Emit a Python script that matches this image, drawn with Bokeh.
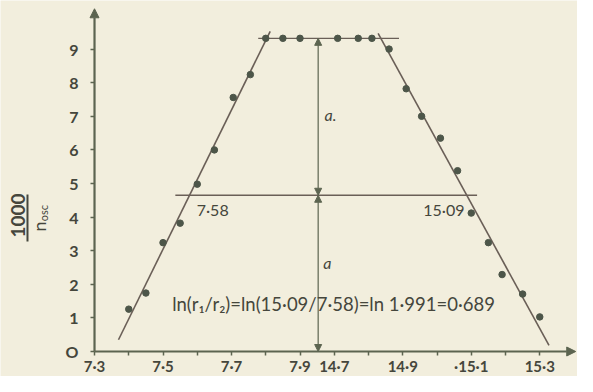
import math
from bokeh.plotting import figure
from bokeh.models import Arrow, NormalHead, Label, FixedTicker
from bokeh.embed import file_html
from bokeh.resources import INLINE

# ---------------- data ----------------
# rising branch + left part of the plateau (V, 1000/n_osc)
left_v = [7.40, 7.45, 7.50, 7.55, 7.60, 7.65, 7.705, 7.755, 7.80, 7.85, 7.90]
left_y = [1.26, 1.74, 3.24, 3.82, 4.98, 6.00, 7.56, 8.24, 9.32, 9.32, 9.32]
# right part of the plateau + falling branch
right_v = [14.71, 14.77, 14.81, 14.86, 14.91, 14.955, 15.01, 15.06, 15.10, 15.15, 15.19, 15.25, 15.30]
right_y = [9.32, 9.32, 9.32, 9.00, 7.82, 7.00, 6.35, 5.38, 4.12, 3.24, 2.29, 1.71, 1.03]
# fitted straight lines
fit_left_v = [7.37, 7.813]
fit_left_y = [0.35, 9.53]
fit_right_v = [14.828, 15.327]
fit_right_y = [9.47, 0.18]
plateau_v = [7.778, 14.889]
plateau_y = 9.32
half_v = [7.536, 15.117]
half_y = 4.65
r1_v, r2_v = 7.58, 15.09
arrow_v = 7.953
# axis ticks
x_tick_values = [7.3, 7.4, 7.5, 7.6, 7.7, 7.8, 7.9, 14.7, 14.8, 14.9, 15.0, 15.1, 15.2, 15.3]
x_tick_labels = ["7·3", "", "7·5", "", "7·7", "", "7·9", "14·7", "", "14·9", "", "·15·1", "", "15·3"]
y_tick_values = [0, 1, 2, 3, 4, 5, 6, 7, 8, 9]
y_tick_labels = ["O", "1", "2", "3", "4", "5", "6", "7", "8", "9"]
formula = "ln(r₁/r₂)=ln(15·09/7·58)=ln 1·991=0·689"


def pos(v):
    """broken x axis: 7.3–7.9 continues directly with 14.7–15.3"""
    return round(v if v < 10 else v - 6.7, 4)


BG = "#f2eedd"
AXC = "#5c6450"
LINEC = "#6a5f57"
PTC = "#4d5649"
TXT = "#45463c"
FONT = "Lato"

# the frame fills the whole canvas; axes are pinned at x=7.3 and y=0
p = figure(width=577, height=376, x_range=(7.0255, 8.7102), y_range=(-0.744, 10.446),
           output_backend="svg", toolbar_location=None,
           min_border_left=0, min_border_right=0, min_border_top=0, min_border_bottom=0)
p.background_fill_color = BG
p.border_fill_color = BG
p.outline_line_color = None
p.xgrid.visible = False
p.ygrid.visible = False

# axes
ticks_pos = [pos(v) for v in x_tick_values]
p.xaxis.ticker = FixedTicker(ticks=ticks_pos)
p.xaxis.major_label_overrides = {t: l for t, l in zip(ticks_pos, x_tick_labels)}
p.yaxis.ticker = FixedTicker(ticks=y_tick_values)
p.yaxis.major_label_overrides = {t: l for t, l in zip(y_tick_values, y_tick_labels)}
p.xaxis.fixed_location = 0
p.yaxis.fixed_location = 7.3
for ax in (p.xaxis[0], p.yaxis[0]):
    ax.axis_line_color = None
    ax.major_tick_line_color = AXC
    ax.major_tick_line_width = 1.5
    ax.major_tick_in = 0
    ax.major_tick_out = 4
    ax.minor_tick_line_color = None
    ax.major_label_text_font = FONT
    ax.major_label_text_font_style = "bold"
    ax.major_label_text_color = TXT
p.xaxis.major_label_text_font_size = "15px"
p.yaxis.major_label_text_font_size = "16px"
p.xaxis.major_label_standoff = 1
p.yaxis.major_label_standoff = 12

# axis lines with arrow heads
p.add_layout(Arrow(x_start=7.3, y_start=0, x_end=8.705, y_end=0, line_color=AXC, line_width=2.2,
                   end=NormalHead(size=9, fill_color=AXC, line_color=AXC)))
p.add_layout(Arrow(x_start=7.3, y_start=0, x_end=7.3, y_end=10.2, line_color=AXC, line_width=2.2,
                   end=NormalHead(size=9, fill_color=AXC, line_color=AXC)))

# fitted lines
p.line([pos(v) for v in fit_left_v], fit_left_y, line_color=LINEC, line_width=1.6)
p.line([pos(v) for v in fit_right_v], fit_right_y, line_color=LINEC, line_width=1.6)
p.line([pos(v) for v in plateau_v], [plateau_y] * 2, line_color=LINEC, line_width=1.4)
p.line([pos(v) for v in half_v], [half_y] * 2, line_color=LINEC, line_width=1.4)

# measured points
p.scatter([pos(v) for v in left_v], left_y, size=6.5, color=PTC)
p.scatter([pos(v) for v in right_v], right_y, size=6.5, color=PTC)

# double headed arrows "a"
for y0, y1 in ((half_y, plateau_y), (0, half_y)):
    p.add_layout(Arrow(x_start=arrow_v, y_start=y0, x_end=arrow_v, y_end=y1,
                       line_color=AXC, line_width=1.2,
                       start=NormalHead(size=7, fill_color=AXC, line_color=AXC),
                       end=NormalHead(size=7, fill_color=AXC, line_color=AXC)))

lab = dict(text_font=FONT, text_color=TXT, text_align="center", text_baseline="middle")
p.add_layout(Label(x=pos(r1_v) + 0.065, y=4.22, text="7·58", text_font_size="16px", **lab))
p.add_layout(Label(x=pos(r2_v) - 0.07, y=4.22, text="15·09", text_font_size="16px", **lab))
p.add_layout(Label(x=arrow_v + 0.036, y=7.06, text="a.", text_font_size="16px",
                   text_font_style="italic", **lab))
p.add_layout(Label(x=arrow_v + 0.027, y=2.65, text="a", text_font_size="16px",
                   text_font_style="italic", **lab))
p.add_layout(Label(x=7.998, y=1.41, text=formula, text_font_size="18.5px", **lab))

# y axis label: 1000 / n_osc (rotated fraction), left of the y axis
p.add_layout(Label(x=7.078, y=4.05, text="1000", angle=math.pi / 2,
                   text_font_size="19px", text_font_style="bold", **lab))
p.add_layout(Arrow(x_start=7.1043, y_start=3.27, x_end=7.1043, y_end=4.67, end=None,
                   line_color=TXT, line_width=2))
p.add_layout(Label(x=7.1365, y=3.72, text="n", angle=math.pi / 2, text_font_size="18px", **lab))
p.add_layout(Label(x=7.151, y=4.12, text="osc", angle=math.pi / 2, text_font_size="11px", **lab))

open("out.html", "w").write(file_html(p, INLINE))
